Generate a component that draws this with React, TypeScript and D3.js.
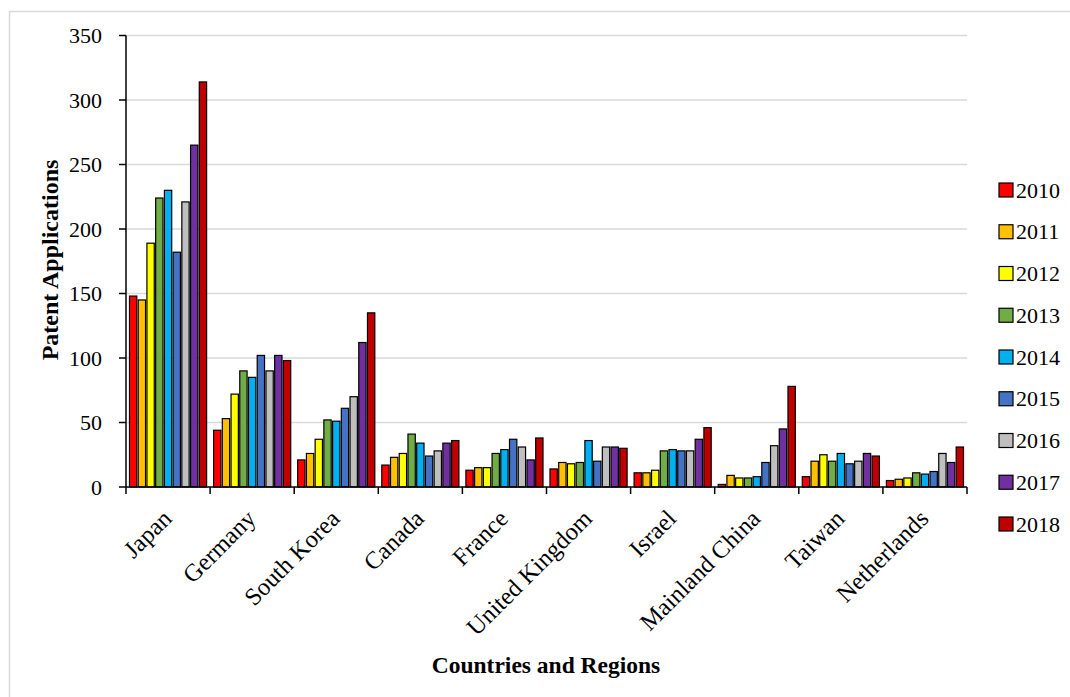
import React from "react";
import * as d3 from "d3";

const countries = ["Japan", "Germany", "South Korea", "Canada", "France", "United Kingdom", "Israel", "Mainland China", "Taiwan", "Netherlands"];
const years = ["2010", "2011", "2012", "2013", "2014", "2015", "2016", "2017", "2018"];
const colors = ["#ff0000", "#ffc000", "#ffff00", "#70ad47", "#00b0f0", "#4472c4", "#bfbfbf", "#7030a0", "#c00000"];

const v2010 = [148, 44, 21, 17, 13, 14, 11, 2, 8, 5];
const v2011 = [145, 53, 26, 23, 15, 19, 11, 9, 20, 6];
const v2012 = [189, 72, 37, 26, 15, 18, 13, 7, 25, 7];
const v2013 = [224, 90, 52, 41, 26, 19, 28, 7, 20, 11];
const v2014 = [230, 85, 51, 34, 29, 36, 29, 8, 26, 10];
const v2015 = [182, 102, 61, 24, 37, 20, 28, 19, 18, 12];
const v2016 = [221, 90, 70, 28, 31, 31, 28, 32, 20, 26];
const v2017 = [265, 102, 112, 34, 21, 31, 37, 45, 26, 19];
const v2018 = [314, 98, 135, 36, 38, 30, 46, 78, 24, 31];
const series = [v2010, v2011, v2012, v2013, v2014, v2015, v2016, v2017, v2018];

const yTicks = [0, 50, 100, 150, 200, 250, 300, 350];

const FONT = "'Liberation Serif', 'DejaVu Serif', serif";

export default function App() {
  const left = 126, right = 967, top = 35.5, bottom = 487;
  const x0 = d3.scaleBand<string>().domain(countries).range([left, right]).paddingInner(0).paddingOuter(0);
  const x1 = d3.scaleBand<string>().domain(years).range([0, x0.bandwidth()]).paddingInner(0.16).paddingOuter(0.4);
  const y = d3.scaleLinear().domain([0, 350]).range([bottom, top]);
  const legendY = d3.scalePoint<string>().domain(years).range([190, 524]);

  return (
    <svg width={1070} height={697} style={{ position: "absolute", left: 0, top: 0, background: "#fff" }}>
      <rect x={0} y={0} width={1070} height={697} fill="#fff" />
      <line x1={9.5} y1={11} x2={9.5} y2={697} stroke="#d9d9d9" strokeWidth={1.5} />
      <line x1={9} y1={11.5} x2={1070} y2={11.5} stroke="#d9d9d9" strokeWidth={1.5} />
      {yTicks.filter((t) => t > 0).map((t) => (
        <line key={"g" + t} x1={left} x2={right} y1={y(t)} y2={y(t)} stroke="#d9d9d9" strokeWidth={1.5} />
      ))}
      {countries.map((c, ci) => (
        <g key={c}>
          {series.map((s, si) => (
            <rect
              key={years[si]}
              x={(x0(c) as number) + (x1(years[si]) as number)}
              y={y(s[ci])}
              width={x1.bandwidth()}
              height={bottom - y(s[ci])}
              fill={colors[si]}
              stroke="#000"
              strokeWidth={1.2}
            />
          ))}
        </g>
      ))}
      {/* y axis */}
      <line x1={left} x2={left} y1={top} y2={bottom} stroke="#000" strokeWidth={1.5} />
      {yTicks.map((t) => (
        <g key={"t" + t}>
          <line x1={left - 7} x2={left} y1={y(t)} y2={y(t)} stroke="#000" strokeWidth={1.5} />
          <text x={left - 24} y={y(t)} dy="0.35em" textAnchor="end" fontFamily={FONT} fontSize={22} fill="#000">{t}</text>
        </g>
      ))}
      {/* x axis */}
      <line x1={left} x2={right} y1={bottom} y2={bottom} stroke="#000" strokeWidth={1.5} />
      {d3.range(countries.length + 1).map((i) => {
        const xx = left + i * x0.step();
        return <line key={"xt" + i} x1={xx} x2={xx} y1={bottom} y2={bottom + 7} stroke="#000" strokeWidth={1.5} />;
      })}
      {countries.map((c) => {
        const cx = (x0(c) as number) + x0.bandwidth() / 2 + 5;
        const cy = bottom + 33;
        return (
          <text key={"l" + c} x={cx} y={cy} textAnchor="end" fontFamily={FONT} fontSize={24.5} fill="#000" transform={`rotate(-45 ${cx} ${cy})`}>
            {c}
          </text>
        );
      })}
      <text x={546} y={673} textAnchor="middle" fontFamily={FONT} fontSize={23.5} fontWeight="bold" fill="#000">Countries and Regions</text>
      <text x={0} y={0} transform="translate(58 260) rotate(-90)" textAnchor="middle" fontFamily={FONT} fontSize={24} fontWeight="bold" fill="#000">Patent Applications</text>
      {years.map((yr, i) => (
        <g key={"lg" + yr}>
          <rect x={999} y={(legendY(yr) as number) - 7} width={14} height={14} fill={colors[i]} stroke="#000" strokeWidth={1.2} />
          <text x={1016} y={legendY(yr) as number} dy="0.35em" fontFamily={FONT} fontSize={22} fill="#000">{yr}</text>
        </g>
      ))}
    </svg>
  );
}
